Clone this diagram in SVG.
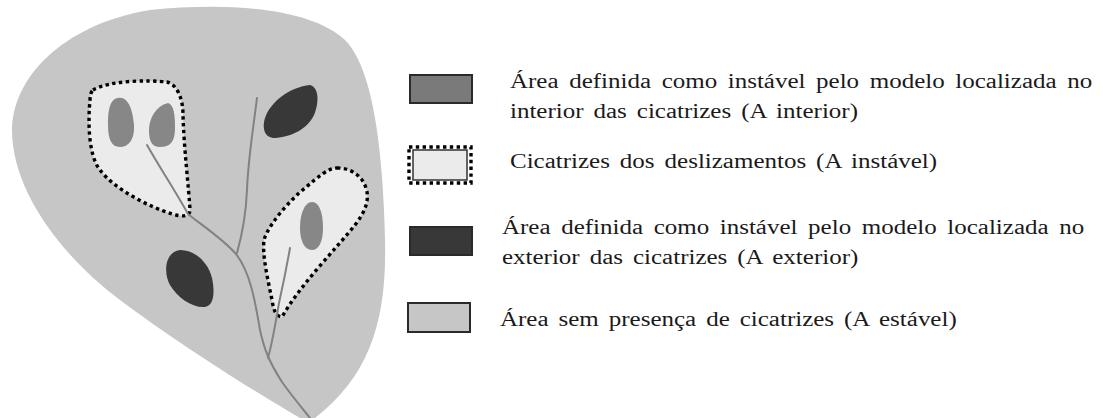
<svg xmlns="http://www.w3.org/2000/svg" width="1103" height="418" viewBox="0 0 1103 418">
  <style>
    .area { fill: #c6c6c6; }
    .scar { fill: #ebebeb; stroke: #000; stroke-width: 3.4; stroke-dasharray: 3.4 3.4; }
    .inner { fill: #878787; }
    .outer { fill: #383838; }
    .drain { fill: none; stroke: #828282; stroke-width: 2; stroke-linecap: round; stroke-linejoin: round; }
    .key { stroke: #2a2a2a; stroke-width: 2; }
    .label { font-family: "Liberation Serif", "Times New Roman", serif; font-size: 20px; fill: #1a1a1a; word-spacing: 3px; }
    .just { word-spacing: 3.5px; }
  </style>

  <!-- basin outline -->
  <g id="basin">
    <path class="area" d="M 150 10 C 230 2, 310 8, 345 40 C 375 70, 383 160, 385 240 C 387 320, 370 375, 315 418 L 300 418 C 260 395, 180 345, 120 300 C 60 255, 12 190, 12 130 C 12 80, 60 25, 150 10 Z"/>
  </g>

  <!-- landslide scars -->
  <g id="scar-left">
    <path class="scar" d="M 93 90 C 110 80, 150 80, 167 82 C 178 85, 183 100, 183 115 C 184 150, 189 190, 190 210 C 190 217, 182 217, 172 214 C 150 207, 115 190, 100 170 C 88 155, 88 120, 90 100 C 90 95, 91 92, 93 90 Z"/>
    <path class="inner" d="M 118 98 C 128 96, 133 110, 134 125 C 135 140, 128 147, 120 147 C 111 147, 108 138, 108 125 C 108 110, 110 99, 118 98 Z"/>
    <path class="inner" d="M 168 103 C 174 105, 175 115, 175 128 C 175 142, 170 147, 160 147 C 151 147, 149 140, 149 130 C 149 118, 156 106, 168 103 Z"/>
  </g>
  <g id="scar-right">
    <path class="scar" d="M 337 168 C 350 168, 362 175, 366 188 C 370 200, 365 212, 355 225 C 335 250, 300 285, 282 317 C 276 316, 274 312, 272 300 C 268 280, 262 255, 264 240 C 268 225, 290 200, 305 188 C 318 177, 328 168, 337 168 Z"/>
    <path class="inner" d="M 312 202 C 320 202, 323 215, 323 228 C 323 243, 318 250, 312 250 C 304 250, 300 240, 300 228 C 300 213, 305 202, 312 202 Z"/>
  </g>

  <!-- unstable areas outside the scars -->
  <g id="outer-top">
    <path class="outer" d="M 310 85 C 318 87, 320 100, 314 115 C 307 130, 290 137, 275 138 C 264 138, 262 128, 265 118 C 270 102, 290 87, 310 85 Z"/>
  </g>
  <g id="outer-bottom">
    <path class="outer" d="M 180 250 C 195 250, 208 262, 212 278 C 215 292, 214 306, 205 307 C 192 308, 178 298, 170 285 C 163 272, 165 252, 180 250 Z"/>
  </g>

  <!-- drainage lines -->
  <g id="drainage">
    <path class="drain" d="M 147 145 C 160 168, 176 192, 188 214 C 200 224, 222 238, 236 254 C 250 272, 255 300, 260 330 C 264 348, 268 360, 282 382 C 292 396, 302 408, 310 418"/>
    <path class="drain" d="M 257 98 C 253 130, 248 160, 247 190 C 246 215, 242 235, 237 253"/>
    <path class="drain" d="M 290 248 C 287 265, 283 285, 279 303 C 276 320, 273 340, 268 358"/>
  </g>

  <!-- legend (text is set in a horizontally widened serif face) -->
  <g id="legend-interior">
    <rect class="key" x="410" y="75" width="62" height="28" fill="#7a7a7a"/>
    <text class="label just" transform="scale(1.25 1)" x="408" y="88">Área definida como instável pelo modelo localizada no</text>
    <text class="label" transform="scale(1.25 1)" x="408" y="118">interior das cicatrizes (A interior)</text>
  </g>
  <g id="legend-scar">
    <rect x="409" y="147" width="62" height="36" fill="none" stroke="#000" stroke-width="3.4" stroke-dasharray="3.4 3.4"/>
    <rect x="413" y="150" width="54" height="30" fill="#ebebeb" stroke="#333" stroke-width="1.5"/>
    <text class="label" transform="scale(1.25 1)" x="408" y="168">Cicatrizes dos deslizamentos (A instável)</text>
  </g>
  <g id="legend-exterior">
    <rect class="key" x="410" y="227" width="62" height="28" fill="#383838" stroke="#555"/>
    <text class="label just" transform="scale(1.25 1)" x="401.6" y="234">Área definida como instável pelo modelo localizada no</text>
    <text class="label" transform="scale(1.25 1)" x="401.6" y="264">exterior das cicatrizes (A exterior)</text>
  </g>
  <g id="legend-stable">
    <rect class="key" x="408" y="303" width="62" height="29" fill="#c6c6c6"/>
    <text class="label" transform="scale(1.25 1)" x="400" y="326">Área sem presença de cicatrizes (A estável)</text>
  </g>
</svg>
